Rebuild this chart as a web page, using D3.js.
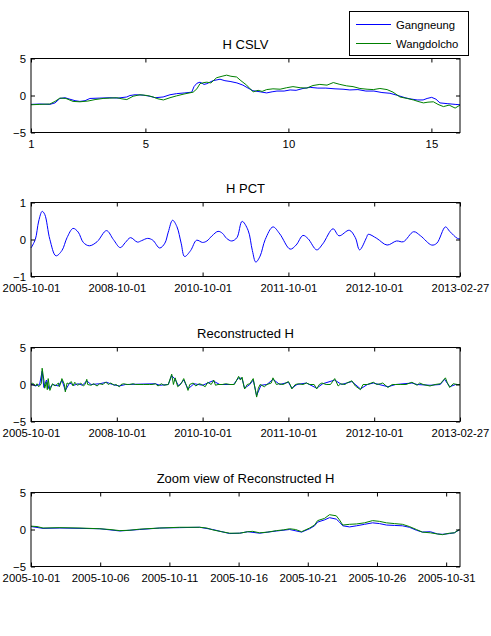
<!DOCTYPE html>
<html><head><meta charset="utf-8">
<script src="https://cdn.jsdelivr.net/npm/d3@7"></script>
<style>
html,body{margin:0;padding:0;background:#fff;}
text{font-family:"Liberation Sans",Arial,sans-serif;fill:#000;}
</style></head>
<body>
<div id="chart"></div>
<script>
// ---------- DATA ----------
const seriesNames = ["Gangneung", "Wangdolcho"];
const titles = ["H CSLV", "H PCT", "Reconstructed H", "Zoom view of Reconstructed H"];

// Panel 1: H CSLV (x: 1..16)
const cslvTicks = [1, 5, 10, 15];
const cslvGX = [1.00,1.31,1.66,1.84,2.01,2.19,2.36,2.54,2.71,2.89,3.06,3.41,3.76,4.04,4.35,4.46,4.64,4.92,5.16,5.34,5.62,5.86,6.09,6.38,6.62,6.70,6.80,6.91,7.05,7.15,7.36,7.61,7.78,7.96,8.20,8.41,8.59,8.76,9.01,9.24,9.43,9.60,9.85,10.06,10.27,10.51,10.76,11.03,11.31,11.63,11.91,12.15,12.43,12.71,12.99,13.27,13.55,13.83,14.08,14.25,14.50,14.71,14.85,15.01,15.16,15.30,15.55,15.83,16.00];
const cslvGangneung = [-1.2,-1.15,-1.2,-1.0,-0.4,-0.3,-0.5,-0.7,-0.8,-0.7,-0.4,-0.35,-0.3,-0.35,-0.2,0.0,0.1,0.05,-0.1,-0.3,-0.2,0.1,0.25,0.35,0.45,1.2,1.65,1.8,1.5,1.6,2.0,2.2,2.0,1.9,1.7,1.4,1.0,0.65,0.5,0.35,0.5,0.6,0.6,0.75,0.7,0.95,1.1,1.0,1.0,0.9,0.85,0.75,0.8,0.6,0.6,0.4,0.3,0.0,-0.3,-0.45,-0.6,-0.6,-0.4,-0.25,-0.5,-1.0,-1.1,-1.2,-1.25];
const cslvWX = [1.00,1.31,1.66,1.84,2.01,2.22,2.47,2.71,2.99,3.24,3.52,3.76,4.00,4.18,4.35,4.57,4.81,5.06,5.27,5.44,5.63,5.86,6.09,6.35,6.67,6.80,6.91,7.05,7.15,7.29,7.49,7.68,7.84,7.99,8.19,8.34,8.54,8.66,8.77,8.94,9.08,9.24,9.46,9.71,9.94,10.16,10.41,10.64,10.86,11.10,11.35,11.57,11.80,12.04,12.26,12.50,12.75,12.97,13.20,13.45,13.66,13.90,14.15,14.37,14.53,14.72,14.88,15.07,15.23,15.42,15.62,15.83,16.00];
const cslvWangdolcho = [-1.25,-1.2,-1.15,-0.8,-0.35,-0.4,-0.8,-0.85,-0.75,-0.55,-0.4,-0.35,-0.3,-0.45,-0.55,-0.1,0.1,0.0,-0.2,-0.45,-0.6,-0.3,-0.05,0.2,0.45,0.9,1.6,1.75,1.8,1.7,2.4,2.6,2.75,2.6,2.5,2.0,1.4,0.9,0.5,0.7,0.55,0.8,0.9,0.85,1.05,1.2,1.05,1.0,1.35,1.5,1.4,1.75,1.5,1.3,1.2,0.95,0.85,0.8,0.95,0.8,0.45,-0.2,-0.4,-0.6,-0.8,-1.0,-0.9,-0.85,-1.2,-1.5,-1.3,-1.7,-1.3];

// Panels 2 & 3 share a sample-index axis (0..500) labelled with dates
const sampleTicks = [0, 100, 200, 300, 400, 500];
const sampleTickLabels = ["2005-10-01","2008-10-01","2010-10-01","2011-10-01","2012-10-01","2013-02-27"];

// Panel 2: H PCT
const pctX = [0,5,9,13,16,22,29,36,42,49,55,61,68,77,88,96,104,110,116,124,129,136,142,150,156,160,165,170,175,179,186,193,200,205,211,218,223,228,234,240,246,253,258,262,267,273,282,290,302,309,317,323,333,340,352,359,371,378,383,391,393,403,415,426,434,446,454,467,473,483,488,497,500];
const pctVal = [-0.23,0.0,0.5,0.76,0.68,0.0,-0.44,-0.3,0.05,0.30,0.2,-0.08,-0.17,-0.06,0.24,0.0,-0.22,-0.08,0.05,-0.07,-0.03,0.03,-0.02,-0.23,-0.1,0.2,0.52,0.35,-0.1,-0.46,-0.3,-0.02,-0.08,-0.04,0.1,0.22,0.17,0.03,-0.04,0.05,0.49,0.25,-0.3,-0.61,-0.45,0.0,0.34,0.15,-0.26,-0.15,0.11,0.02,-0.28,-0.12,0.29,0.10,0.25,0.05,-0.28,0.05,0.14,0.03,-0.15,-0.04,-0.06,0.21,0.1,-0.15,-0.1,0.34,0.22,0.03,0.02];

// Panel 3: Reconstructed H
const recGX = [0,2,5,7,9,12,13,15,16,18,19,20,22,25,28,30,32,33,35,36,39,40,42,44,47,49,51,54,56,58,61,63,65,66,70,73,77,80,84,87,90,93,97,99,103,105,108,112,115,119,122,127,131,134,138,141,145,148,152,155,160,164,166,168,171,175,178,181,183,185,189,192,196,199,203,206,210,213,215,218,223,227,232,237,242,244,246,248,249,252,255,259,263,265,267,272,275,280,282,286,289,294,300,302,304,308,312,317,321,325,330,333,336,339,344,349,354,358,361,366,368,374,378,384,387,392,399,403,407,410,416,421,425,431,437,444,450,453,457,465,471,477,483,485,488,492,497,500];
const recWangdolcho = [0.0,0.2,-0.2,0.1,-0.3,0.1,2.2,0.6,-0.5,0.3,-0.7,0.8,-0.8,0.1,-0.2,0.0,0.2,-0.3,0.3,0.8,0.0,-1.0,0.2,0.1,0.4,-0.2,0.3,-0.1,0.0,0.2,-0.2,0.0,0.7,0.0,-0.1,0.1,-0.2,0.1,0.0,0.35,0.0,0.2,-0.1,0.0,-0.3,0.0,0.1,0.0,0.0,0.1,0.0,0.0,0.0,0.0,0.0,0.0,0.1,-0.2,0.1,-0.1,0.0,1.4,0.0,0.9,-0.3,0.1,0.8,-0.1,-0.8,0.0,0.2,-0.2,0.1,0.0,-0.3,0.3,0.0,0.6,-0.1,0.0,0.0,0.1,0.0,0.0,1.1,0.6,1.0,-0.2,-0.6,0.0,0.1,0.8,-1.7,-0.5,0.0,-0.3,0.0,0.2,0.9,0.0,0.1,0.0,0.4,0.0,-0.6,0.0,0.1,0.0,0.2,0.0,0.0,-0.6,0.0,0.2,0.0,0.0,0.8,-0.2,0.1,0.0,0.2,0.5,-0.2,-0.7,0.0,0.0,0.3,0.0,0.1,0.2,-0.4,0.0,0.0,0.0,0.0,0.3,-0.1,0.2,0.0,-0.2,0.0,0.1,0.9,0.3,-0.4,0.1,0.0,0.0];
const recBX = [0,5,10,13,15,18,21,25,32,36,40,45,50,55,60,65,70,80,88,95,103,110,145,150,160,164,168,172,178,183,190,200,206,212,220,236,242,246,249,255,259,263,268,275,282,290,300,304,310,321,333,340,354,362,368,374,384,392,399,416,425,444,450,465,477,482,488,495,500];
const recGangneung = [0.1,-0.2,0.0,1.8,-0.4,0.6,-0.6,0.0,-0.2,0.6,-0.8,0.2,-0.1,0.1,-0.1,0.5,0.0,0.1,0.3,0.0,-0.2,0.0,0.1,-0.1,0.0,1.2,0.7,-0.2,0.6,-0.6,0.1,-0.1,0.2,0.5,0.0,0.0,0.9,0.8,-0.5,0.0,0.6,-1.5,-0.1,0.0,0.7,0.0,0.3,-0.5,0.0,0.2,-0.5,0.1,0.6,0.0,0.2,0.4,-0.6,0.0,0.2,-0.3,0.0,0.2,0.0,-0.1,0.0,0.7,-0.3,0.0,0.0];

// Panel 4: Zoom view (days after 2005-10-01)
const zoomTickLabels = ["2005-10-01","2005-10-06","2005-10-11","2005-10-16","2005-10-21","2005-10-26","2005-10-31"];
const zoomGDay = [0.0,0.43,0.87,2.09,3.54,4.98,5.70,6.42,7.14,7.86,9.31,10.75,12.19,12.70,13.13,13.78,14.36,15.08,15.66,16.02,16.52,17.10,17.75,18.25,18.69,19.12,19.55,20.13,20.49,20.71,21.21,21.57,22.06,22.29,22.53,23.02,23.52,24.10,24.68,25.18,25.69,26.26,26.84,27.34,27.85,28.28,28.86,29.37,29.73,30.23,30.59,30.95];
const zoomWangdolcho = [0.45,0.4,0.2,0.25,0.2,0.1,0.0,-0.15,-0.1,0.05,0.2,0.3,0.3,0.2,-0.05,-0.3,-0.5,-0.5,-0.3,-0.25,-0.45,-0.35,-0.15,-0.05,0.1,0.0,-0.3,0.2,0.6,1.2,1.5,2.0,1.85,1.3,0.6,0.7,0.75,0.9,1.2,1.1,0.9,0.8,0.7,0.4,0.0,-0.35,-0.45,-0.6,-0.7,-0.5,-0.45,0.0];
const zoomBDay = [0.0,0.87,2.09,3.54,4.98,6.42,7.86,9.31,10.75,12.19,13.13,14.36,15.08,15.66,16.52,17.75,18.69,19.55,20.13,20.49,20.71,21.21,21.57,22.06,22.29,22.53,23.02,23.52,24.10,24.68,25.18,25.69,26.26,26.84,27.34,27.85,28.28,28.86,29.37,29.73,30.23,30.59,30.95];
const zoomGangneung = [0.4,0.15,0.2,0.15,0.1,-0.2,0.0,0.2,0.25,0.3,0.0,-0.55,-0.5,-0.3,-0.5,-0.2,0.0,-0.35,0.1,0.5,1.0,1.3,1.6,1.4,1.0,0.5,0.35,0.5,0.7,0.9,0.8,0.6,0.55,0.5,0.3,-0.1,-0.35,-0.3,-0.6,-0.65,-0.55,-0.45,-0.05];

// ---------- LAYOUT ----------
const W = 491, H = 636;
const left = 31, right = 460;
const panelTops = [58.5, 202.5, 347.5, 492.5];
const panelH = 74;
const colors = {Gangneung: "#0000ff", Wangdolcho: "#008000"};
const tickFont = "11.3px", titleFont = "13px";

const svg = d3.select("#chart").append("svg").attr("width", W).attr("height", H);

function zip(xs, ys){ return xs.map((x,i)=>[x, ys[i]]); }

function panel(i, x, yDomain, yTicks, xTickVals, xTickFmt, lines){
  const top = panelTops[i];
  const y = d3.scaleLinear().domain(yDomain).range([top + panelH, top]);
  const g = svg.append("g");
  const lineGen = d3.line().x(d=>x(d[0])).y(d=>y(d[1]));
  lines.forEach(L => {
    g.append("path").datum(L.data)
      .attr("fill","none").attr("stroke", colors[L.name]).attr("stroke-width", 1)
      .attr("stroke-linejoin","round")
      .attr("d", lineGen.curve(L.curve || d3.curveLinear));
  });
  g.append("g").attr("transform", `translate(0,${top+panelH})`)
    .call(d3.axisBottom(x).tickValues(xTickVals).tickFormat(xTickFmt).tickSizeInner(-4).tickSizeOuter(0).tickPadding(7.5));
  g.append("g").attr("transform", `translate(0,${top})`)
    .call(d3.axisTop(x).tickValues(xTickVals).tickFormat("").tickSizeInner(-4).tickSizeOuter(0));
  g.append("g").attr("transform", `translate(${left},0)`)
    .call(d3.axisLeft(y).tickValues(yTicks).tickFormat(d3.format("d")).tickSizeInner(-4).tickSizeOuter(0).tickPadding(5));
  g.append("g").attr("transform", `translate(${right},0)`)
    .call(d3.axisRight(y).tickValues(yTicks).tickFormat("").tickSizeInner(-4).tickSizeOuter(0));
  g.selectAll(".domain").remove();
  g.selectAll(".tick line").attr("stroke", "#000");
  g.selectAll(".tick text").style("font-size", tickFont).style("font-family", '"Liberation Sans", Arial, sans-serif').attr("fill","#000");
  g.append("rect").attr("x", left).attr("y", top).attr("width", right-left).attr("height", panelH)
    .attr("fill","none").attr("stroke","#000").attr("stroke-width",1);
  svg.append("text").attr("x", (left+right)/2).attr("y", top - 10)
    .attr("text-anchor","middle").style("font-size", titleFont).text(titles[i]);
  return g;
}

// Panel 1
const x1 = d3.scaleLinear().domain([1,16]).range([left,right]);
panel(0, x1, [-5,5], [-5,0,5], cslvTicks, d3.format("d"), [
  {name:"Gangneung", data: zip(cslvGX, cslvGangneung)},
  {name:"Wangdolcho", data: zip(cslvWX, cslvWangdolcho)}
]);

// Panel 2
const xs = d3.scaleLinear().domain([0,500]).range([left,right]);
const sampleFmt = d => sampleTickLabels[sampleTicks.indexOf(d)];
panel(1, xs, [-1,1], [-1,0,1], sampleTicks, sampleFmt, [
  {name:"Gangneung", data: zip(pctX, pctVal), curve: d3.curveCatmullRom}
]);

// Panel 3
panel(2, xs, [-5,5], [-5,0,5], sampleTicks, sampleFmt, [
  {name:"Gangneung", data: zip(recBX, recGangneung)},
  {name:"Wangdolcho", data: zip(recGX, recWangdolcho)}
]);

// Panel 4
const t0 = Date.UTC(2005, 9, 1);
const dayMs = 86400000;
const xz = d3.scaleUtc().domain([new Date(t0), new Date(t0 + 31*dayMs)]).range([left,right]);
const zoomTicks = zoomTickLabels.map(s => new Date(s + "T00:00:00Z"));
panel(3, xz, [-5,5], [-5,0,5], zoomTicks, d3.utcFormat("%Y-%m-%d"), [
  {name:"Gangneung", data: zip(zoomBDay.map(d=>new Date(t0 + d*dayMs)), zoomGangneung)},
  {name:"Wangdolcho", data: zip(zoomGDay.map(d=>new Date(t0 + d*dayMs)), zoomWangdolcho)}
]);

// Legend
const lg = svg.append("g");
lg.append("rect").attr("x", 349.5).attr("y", 11.5).attr("width", 119).attr("height", 44)
  .attr("fill","#fff").attr("stroke","#000").attr("stroke-width",1);
seriesNames.forEach((n, k) => {
  const yy = 24.5 + k*19;
  lg.append("line").attr("x1", 356).attr("x2", 391).attr("y1", yy).attr("y2", yy)
    .attr("stroke", colors[n]).attr("stroke-width", 1);
  lg.append("text").attr("x", 396).attr("y", yy + 4.2).style("font-size", tickFont).text(n);
});
</script>
</body></html>
